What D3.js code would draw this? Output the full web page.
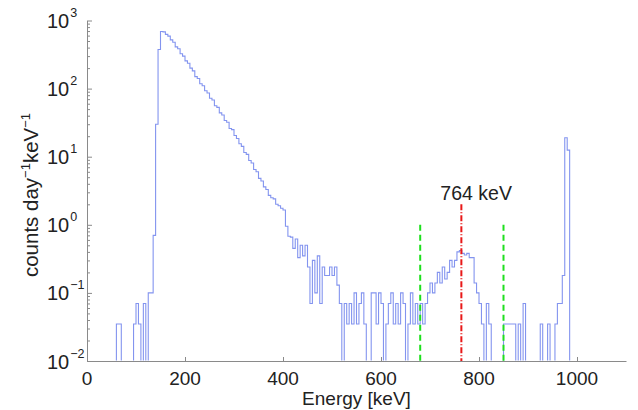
<!DOCTYPE html>
<html>
<head>
<meta charset="utf-8">
<script src="https://cdn.jsdelivr.net/npm/d3@7"></script>
<style>
body { margin: 0; background: #fff; }
text { font-family: "Liberation Sans", Arial, sans-serif; fill: #222; }
</style>
</head>
<body>
<script>
// histogram, 5 keV bins starting at 0 keV
var binWidth = 5;
var counts = [
  // 0 - 95
  0, 0, 0, 0, 0, 0, 0, 0, 0, 0, 0, 0, 0.035, 0.035, 0, 0, 0, 0, 0, 0.035,
  // 100 - 195
  0.07, 0.035, 0, 0.07, 0, 0.1, 0.1, 0.7, 30, 375, 690, 680, 625, 590, 520, 480, 410, 385, 325, 300,
  // 200 - 295
  255, 236, 200, 182, 150, 141, 118, 110, 93, 86, 72, 68, 56, 53, 44, 41, 34, 32, 26, 25,
  // 300 - 395
  20.5, 18.5, 15.5, 14.2, 11.5, 10.8, 8.8, 8.1, 6.5, 6.0, 4.8, 4.4, 3.6, 3.3, 2.7, 2.5, 2.4, 2.0, 1.9, 1.75,
  // 400 - 495
  1.65, 0.95, 0.68, 0.66, 0.45, 0.62, 0.33, 0.5, 0.35, 0.5, 0.24, 0.07, 0.3, 0.1, 0.35, 0.07, 0.24, 0.18, 0.18, 0.24,
  // 500 - 595
  0.18, 0.24, 0.13, 0.07, 0, 0.07, 0.035, 0.07, 0.035, 0.1, 0.035, 0.07, 0.1, 0.035, 0, 0, 0.1, 0.1, 0.035, 0.1,
  // 600 - 695
  0.07, 0, 0.035, 0.07, 0.1, 0.035, 0.07, 0.035, 0.1, 0.07, 0, 0.035, 0.1, 0.035, 0.07, 0.035, 0.07, 0.035, 0.07, 0.1,
  // 700 - 795
  0.14, 0.1, 0.14, 0.2, 0.14, 0.24, 0.16, 0.2, 0.3, 0.24, 0.3, 0.4, 0.42, 0.38, 0.36, 0.38, 0.33, 0.33, 0.14, 0.1,
  // 800 - 895
  0.07, 0.035, 0, 0.07, 0.035, 0, 0, 0, 0, 0, 0.035, 0.035, 0.035, 0.035, 0.035, 0, 0.035, 0, 0.07, 0,
  // 900 - 995
  0, 0, 0, 0, 0, 0.035, 0, 0, 0.035, 0, 0, 0.035, 0.07, 0.07, 0.18, 19, 12.5, 0, 0, 0,
  // 1000 - 1095
  0, 0, 0, 0, 0, 0, 0, 0, 0, 0, 0, 0, 0, 0, 0, 0, 0, 0, 0, 0
];
var yExps = [-2, -1, 0, 1, 2, 3];
var xTicks = [0, 200, 400, 600, 800, 1000];
var windowLines = [680, 850];
var windowTop = 1.0;
var peakLine = 764;
var peakTop = 2.0;
var peakLabel = "764 keV";

var W = 638, H = 410;
var svg = d3.select("body").append("svg")
  .attr("width", W)
  .attr("height", H);

var x = d3.scaleLinear().domain([0, 1100]).range([87, 626]);
var y = d3.scaleLog().domain([1e-2, 1e3]).range([361, 20.5]);

svg.append("clipPath").attr("id", "plot")
  .append("rect")
  .attr("x", 87).attr("y", 0)
  .attr("width", 540).attr("height", 360.4);

// spectrum as a step line, empty bins fall below the axis
var pts = counts.map(function(v, i) { return [i * binWidth, v]; });
pts.push([counts.length * binWidth, 0]);
var line = d3.line()
  .x(function(d) { return x(d[0]); })
  .y(function(d) { return y(Math.max(d[1], 1e-3)); })
  .curve(d3.curveStepAfter);

svg.append("path")
  .datum(pts)
  .attr("clip-path", "url(#plot)")
  .attr("d", line)
  .attr("fill", "none")
  .attr("stroke", "#8394ef")
  .attr("stroke-width", 1.1);

// energy window and peak
svg.selectAll(".win")
  .data(windowLines)
  .enter().append("line")
  .attr("class", "win")
  .attr("x1", function(d) { return x(d); })
  .attr("x2", function(d) { return x(d); })
  .attr("y1", y(windowTop))
  .attr("y2", y(1e-2))
  .attr("stroke", "#1ee01e")
  .attr("stroke-width", 2)
  .attr("stroke-dasharray", "6,4");

svg.append("line")
  .attr("x1", x(peakLine))
  .attr("x2", x(peakLine))
  .attr("y1", y(peakTop))
  .attr("y2", y(1e-2))
  .attr("stroke", "#e81818")
  .attr("stroke-width", 2)
  .attr("stroke-dasharray", "6,2,1,2");

svg.append("text")
  .attr("x", x(peakLine) - 21)
  .attr("y", 200)
  .attr("font-size", 19.5)
  .text(peakLabel);

// y axis
var minor = [];
yExps.slice(0, -1).forEach(function(e) {
  for (var k = 2; k <= 9; k++) minor.push(k * Math.pow(10, e));
});

svg.append("g")
  .attr("transform", "translate(87,0)")
  .call(d3.axisLeft(y).tickValues(minor).tickSize(-3).tickFormat(""))
  .call(function(g) { g.select(".domain").remove(); })
  .selectAll("line").attr("stroke", "#8a8a8a");

var gy = svg.append("g")
  .attr("transform", "translate(87,0)")
  .call(d3.axisLeft(y).tickValues(yExps.map(function(e) { return Math.pow(10, e); }))
    .tickSize(-5).tickSizeOuter(0).tickFormat(""));
gy.select(".domain").attr("stroke", "#8a8a8a");
gy.selectAll("line").attr("stroke", "#8a8a8a");

yExps.forEach(function(e) {
  var t = svg.append("text")
    .attr("x", 47)
    .attr("y", y(Math.pow(10, e)) + 7.5)
    .attr("font-size", 20);
  t.append("tspan").text("10");
  t.append("tspan")
    .attr("dy", -11)
    .attr("dx", 1)
    .attr("font-size", 12.5)
    .text(e < 0 ? "\u2212" + (-e) : String(e));
});

// x axis
var gx = svg.append("g")
  .attr("transform", "translate(0,361)")
  .call(d3.axisBottom(x).tickValues(xTicks).tickSize(-4).tickSizeOuter(0).tickFormat(""));
gx.select(".domain").attr("stroke", "#8a8a8a");
gx.selectAll("line").attr("stroke", "#8a8a8a");

svg.selectAll(".xl")
  .data(xTicks)
  .enter().append("text")
  .attr("class", "xl")
  .attr("x", function(d) { return x(d); })
  .attr("y", 385)
  .attr("text-anchor", "middle")
  .attr("font-size", 19)
  .text(function(d) { return d; });

svg.append("text")
  .attr("x", (x.range()[0] + x.range()[1]) / 2)
  .attr("y", 405)
  .attr("text-anchor", "middle")
  .attr("font-size", 19)
  .text("Energy [keV]");

// y label
var yl = svg.append("text")
  .attr("transform", "translate(38,195) rotate(-90)")
  .attr("text-anchor", "middle")
  .attr("font-size", 20.5);
yl.append("tspan").text("counts day");
yl.append("tspan").attr("dy", -8).attr("font-size", 13).text("\u22121");
yl.append("tspan").attr("dy", 8).text("keV");
yl.append("tspan").attr("dy", -8).attr("font-size", 13).text("\u22121");
</script>
</body>
</html>
